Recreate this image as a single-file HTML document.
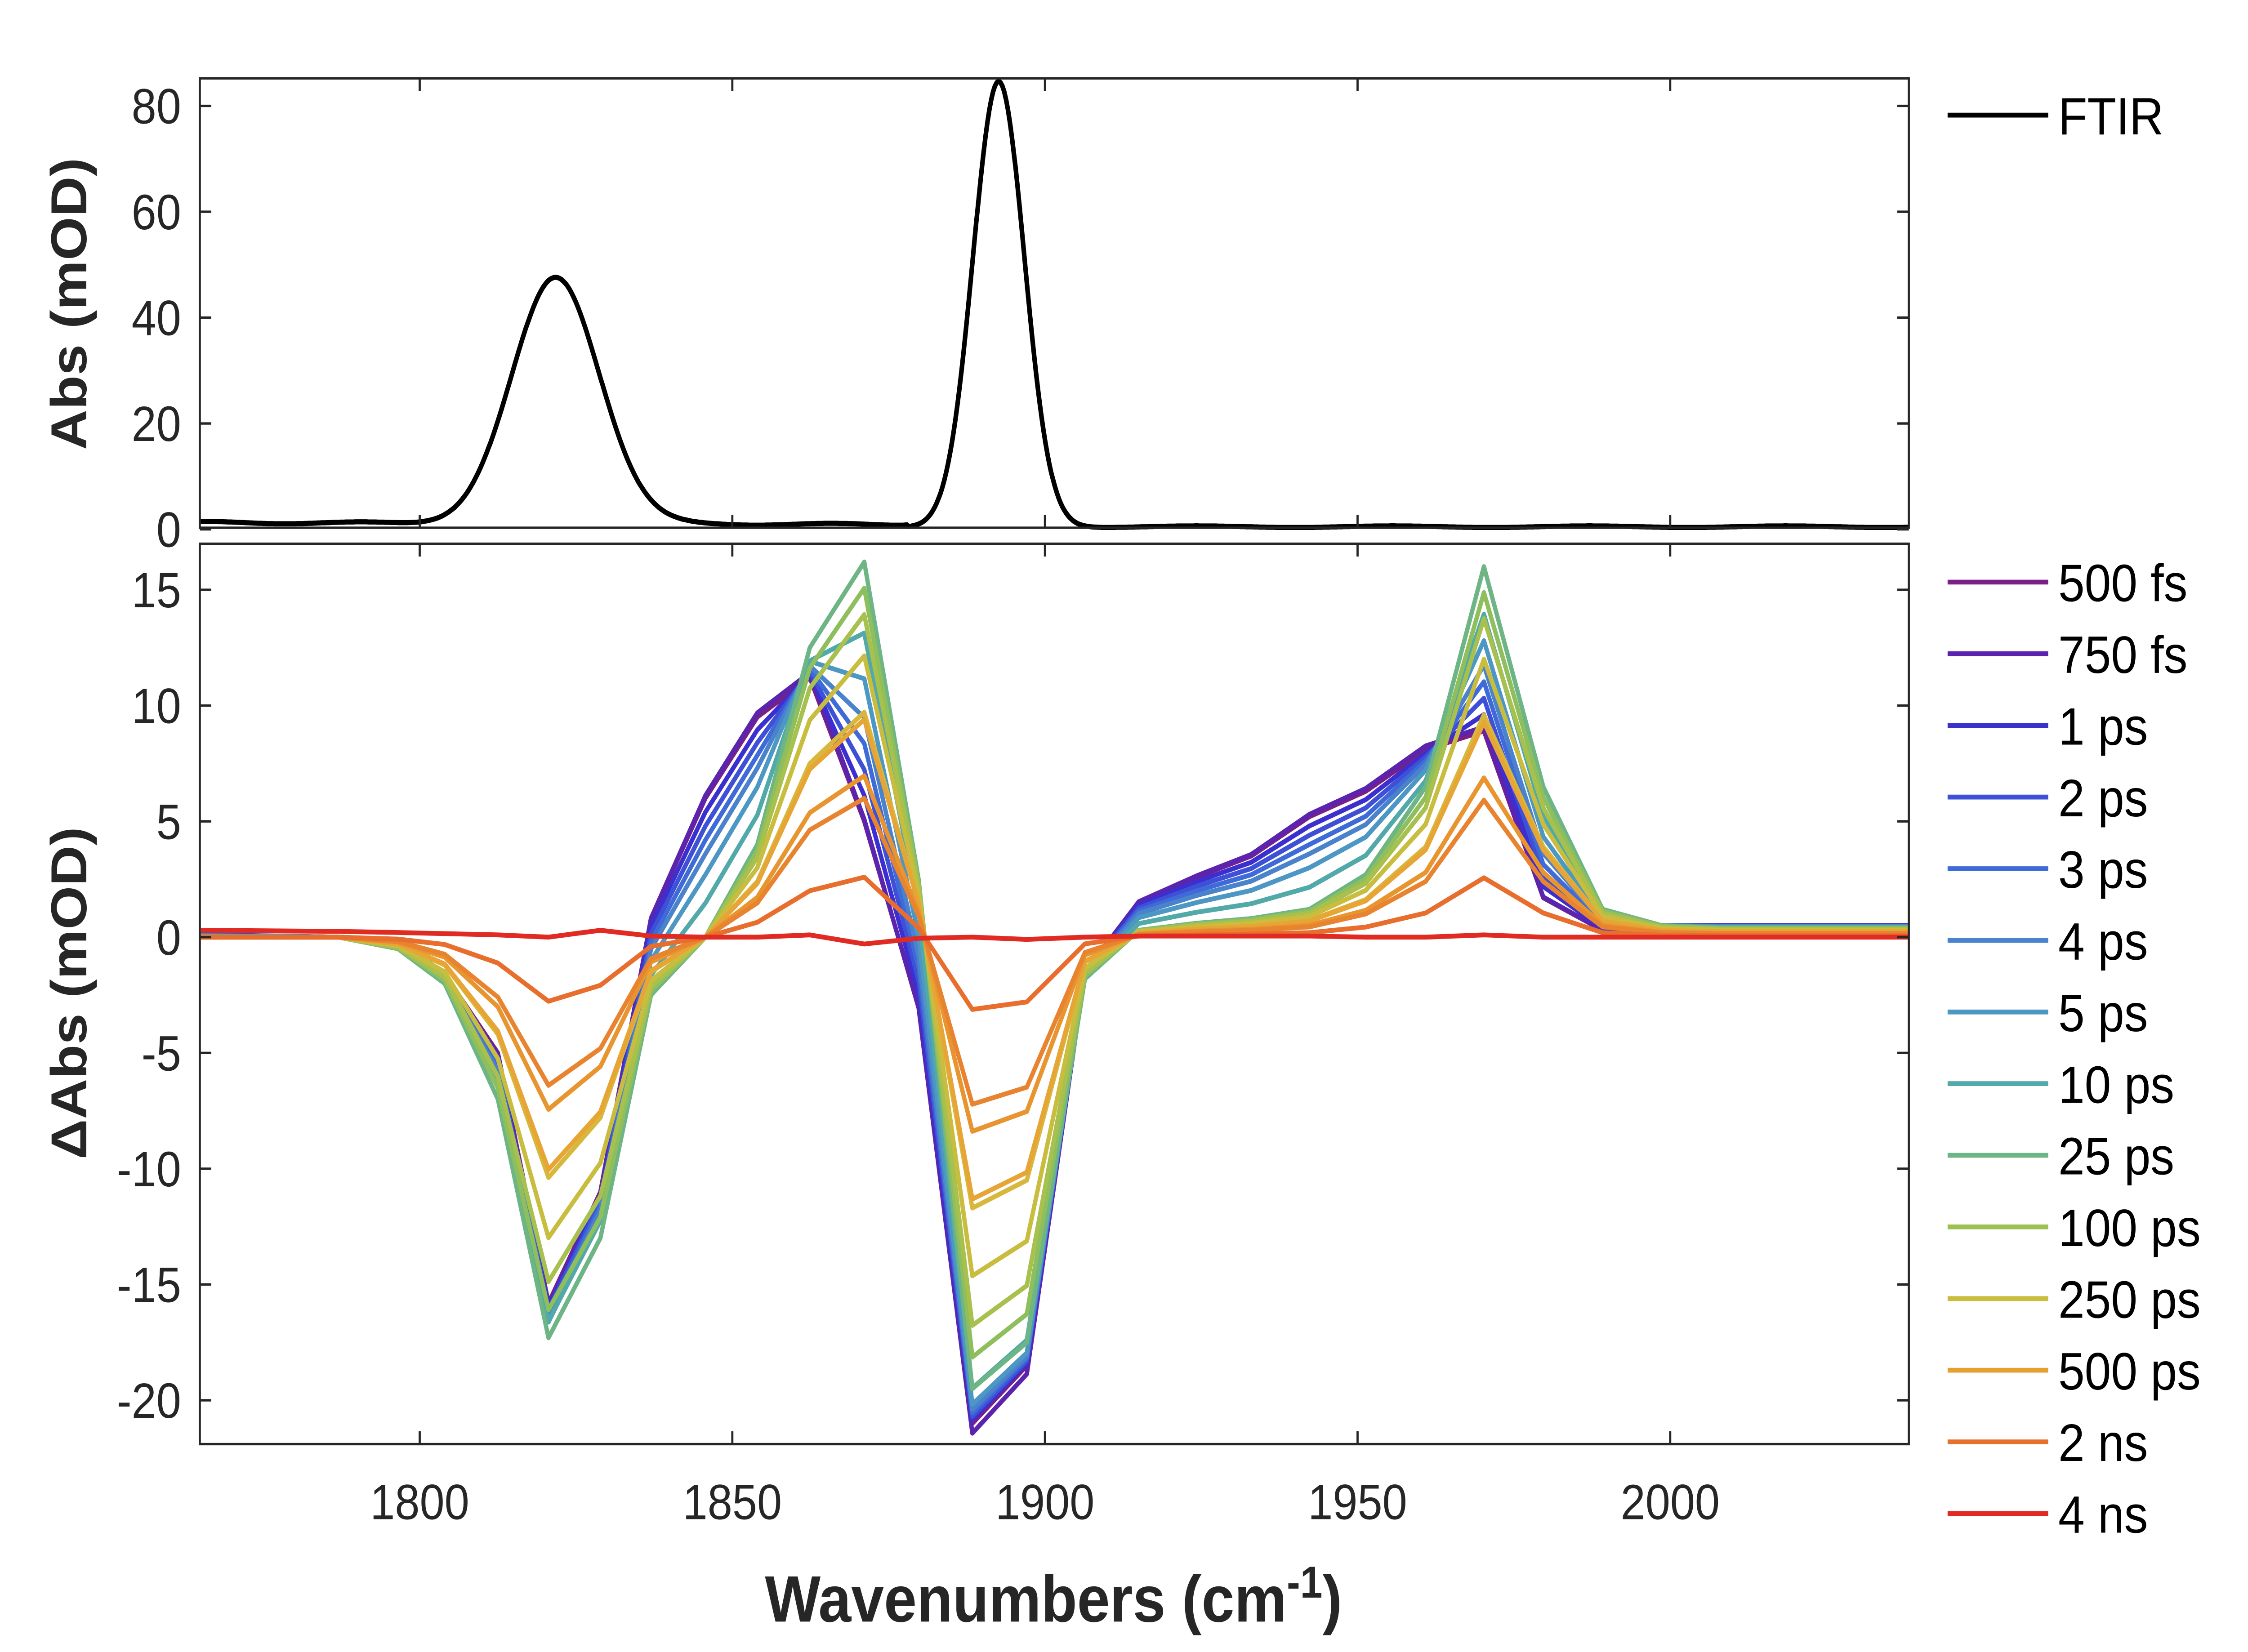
<!DOCTYPE html>
<html><head><meta charset="utf-8"><style>html,body{margin:0;padding:0;background:#fff;width:100%;height:100%;overflow:hidden}svg{display:block;width:100vw;height:100vh}</style></head>
<body>
<svg id="s" xmlns="http://www.w3.org/2000/svg" viewBox="0 0 1564 1033" preserveAspectRatio="none" font-family="Liberation Sans, Arial, sans-serif">
<rect width="1564" height="1033" fill="#fff"/>
<g id="g"></g>
</svg>
<script>
const NS="http://www.w3.org/2000/svg";const G=document.getElementById('g');
function el(t,a,txt){const e=document.createElementNS(NS,t);for(const k in a)e.setAttribute(k,a[k]);if(txt!==undefined)e.textContent=txt;G.appendChild(e);return e;}
const X=w=>292+(w-1800)*4.35;const YT=a=>331-a*3.31;const YB=d=>586-d*14.48;
const L=139,R=1328;
let p=[];
for(let w=1764.8;w<=2038.2;w+=0.3){
 let b=w<1878?1.3-0.4*(w-1765)/113+0.2*Math.sin(w/4):0.5+0.15*Math.sin(w/5);
 let a=b+46.5*Math.exp(-Math.pow((w-1821.8)/7.0,2)/2)+84*Math.exp(-Math.pow((w-1892.6)/4.1,2)/2);
 p.push(X(w).toFixed(1)+','+YT(a).toFixed(1));}
el('polyline',{points:p.join(' '),fill:'none',stroke:'#000','stroke-width':3.2});
const W=[1765,1787,1796.5,1804,1812.5,1820.6,1828.9,1837,1845.7,1854,1862.4,1871.1,1879.8,1888.4,1897.1,1906.4,1915,1924.3,1933,1942.3,1951.3,1960.9,1970.2,1979.7,1989.2,1998.7,2008,2018,2028,2038.2];
const E=[0.1,0,-0.1,-1.6,-5,-15.8,-11,0.8,6,9.5,11.2,5,-3,-21,-18.5,-1.5,1.5,2.6,3.5,5.2,6.3,8.1,8.9,1.7,0.3,0.5,0.5,0.5,0.5,0.5];
const La=[0,0,-0.5,-2,-7,-17.3,-13,-2.5,0,4,12.5,16.2,2.5,-19.5,-17.5,-1.8,0.3,0.6,0.8,1.2,2.7,6.5,16,6.5,1.2,0.5,0.4,0.4,0.4,0.4];
const S=[['#7b1f86',0,1],['#5a24ae',0,1.02],['#3b30cf',.1,1],['#3d50d6',.2,1],['#3f6bd8',.3,1],['#4a82cc',.4,1],['#4c97c4',.55,1],['#52a9aa',.75,.98],['#6eb585',1,1],['#8fbf5c',1,.93],['#a8c04e',1,.86],['#c9bd40',1,.75],['#d8b83c',1,.6],['#e6a535',1,.58],['#e89530',1,.43],['#e88430',1,.37],['#e86e2e',1,.16]];
for(const [c,m,a] of S){let q=W.map((w,i)=>X(w).toFixed(1)+','+YB(a*((1-m)*E[i]+m*La[i])).toFixed(1));
 el('polyline',{points:q.join(' '),fill:'none',stroke:c,'stroke-width':3,'stroke-linejoin':'round'});}
const red=[0.3,0.25,0.2,0.15,0.1,0,0.3,0.05,0,0,0.1,-0.3,-0.05,0,-0.1,0,0.05,0.05,0.05,0.05,0,0,0.1,0,0,0,0,0,0,0];
el('polyline',{points:W.map((w,i)=>X(w).toFixed(1)+','+YB(red[i]).toFixed(1)).join(' '),fill:'none',stroke:'#e02a22','stroke-width':3});
el('rect',{x:L,y:49,width:R-L,height:281,fill:'none',stroke:'#262626','stroke-width':1.5});
el('rect',{x:L,y:340,width:R-L,height:563,fill:'none',stroke:'#262626','stroke-width':1.5});
const tk={stroke:'#262626','stroke-width':1.5};
for(const w of [1800,1850,1900,1950,2000]){const x=X(w);
 el('line',Object.assign({x1:x,x2:x,y1:330,y2:322},tk));el('line',Object.assign({x1:x,x2:x,y1:49,y2:57},tk));
 el('line',Object.assign({x1:x,x2:x,y1:903,y2:895},tk));el('line',Object.assign({x1:x,x2:x,y1:340,y2:348},tk));
 el('text',{x:x,y:950,'font-size':31,'text-anchor':'middle',fill:'#262626'},String(w));}
for(const a of [0,20,40,60,80]){const y=YT(a);
 el('line',Object.assign({x1:L,x2:L+8,y1:y,y2:y},tk));el('line',Object.assign({x1:R,x2:R-8,y1:y,y2:y},tk));
 el('text',{x:126,y:y+11,'font-size':31,'text-anchor':'end',fill:'#262626'},String(a));}
for(const d of [15,10,5,0,-5,-10,-15,-20]){const y=YB(d);
 el('line',Object.assign({x1:L,x2:L+8,y1:y,y2:y},tk));el('line',Object.assign({x1:R,x2:R-8,y1:y,y2:y},tk));
 el('text',{x:126,y:y+11,'font-size':31,'text-anchor':'end',fill:'#262626'},String(d));}
el('text',{x:0,y:0,'font-size':35,'font-weight':'bold','text-anchor':'middle',fill:'#262626',transform:'translate(60,190) rotate(-90)'},'Abs (mOD)');
el('text',{x:0,y:0,'font-size':35,'font-weight':'bold','text-anchor':'middle',fill:'#262626',transform:'translate(60,621) rotate(-90)'},'\u0394Abs (mOD)');
const xl=el('text',{x:733,y:1014,'font-size':41,'font-weight':'bold','text-anchor':'middle',fill:'#262626'});
xl.innerHTML='Wavenumbers (cm<tspan dy="-15" font-size="28">-1</tspan><tspan dy="15">)</tspan>';
el('line',{x1:1355,x2:1425,y1:72,y2:72,stroke:'#000','stroke-width':3});
el('text',{x:1432,y:84,'font-size':33,fill:'#000'},'FTIR');
const LG=[['500 fs','#7b1f86'],['750 fs','#5a24ae'],['1 ps','#3b30cf'],['2 ps','#3d50d6'],['3 ps','#3f6bd8'],['4 ps','#4a82cc'],['5 ps','#4c97c4'],['10 ps','#52a9aa'],['25 ps','#6eb585'],['100 ps','#9cc150'],['250 ps','#c9bd40'],['500 ps','#e6a030'],['2 ns','#e8702e'],['4 ns','#e02a22']];
LG.forEach(([t,c],i)=>{const y=364+i*44.8;
 el('line',{x1:1355,x2:1425,y1:y,y2:y,stroke:c,'stroke-width':3});
 el('text',{x:1432,y:y+12,'font-size':33,fill:'#000'},t);});
</script>
</body></html>
